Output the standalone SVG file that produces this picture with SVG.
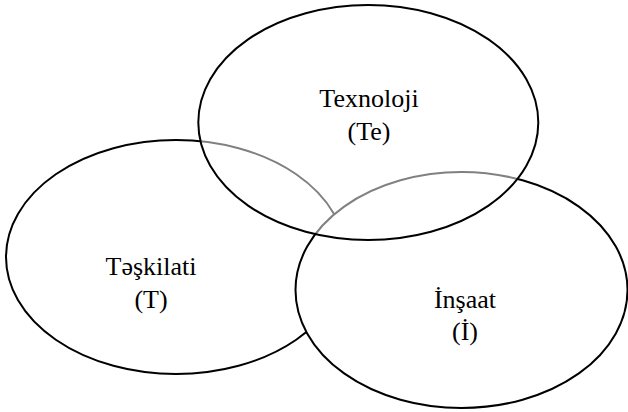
<svg xmlns="http://www.w3.org/2000/svg" width="628" height="412" viewBox="0 0 628 412">
<style>
.e{stroke:#000;stroke-width:2}
.t{font-family:"Liberation Serif","Times New Roman",serif;font-size:26px;fill:#000;text-anchor:middle}
</style>
<rect width="628" height="412" fill="#fff"/>
<g id="node-teskilati">
<ellipse class="e" cx="176" cy="257" rx="170" ry="117" fill="#fff"/>
</g>
<g id="node-insaat">
<ellipse class="e" cx="461.5" cy="290" rx="166" ry="118" fill="#fff"/>
</g>
<g id="node-texnoloji">
<ellipse class="e" cx="368.3" cy="122.5" rx="170" ry="117.5" fill="#fff" fill-opacity="0.5"/>
</g>
<g id="labels">
<text class="t" x="369" y="107">Texnoloji</text>
<text class="t" x="369" y="139.5">(Te)</text>
<text class="t" x="151" y="275">Təşkilati</text>
<text class="t" x="151" y="307.5">(T)</text>
<text class="t" x="465" y="307.5">İnşaat</text>
<text class="t" x="465" y="339.5">(İ)</text>
</g>
<g id="connectors"></g>
</svg>
